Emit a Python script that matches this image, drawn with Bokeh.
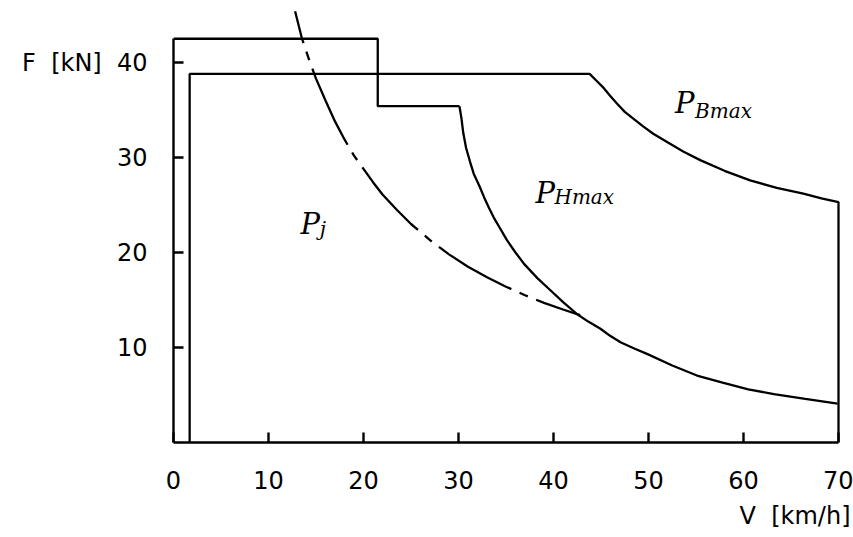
from bokeh.plotting import figure
from bokeh.models import Range1d, FixedTicker, Label, Title
from bokeh.embed import file_html
from bokeh.resources import INLINE

# ---- data ----
x_ticks = [0, 10, 20, 30, 40, 50, 60, 70]
y_ticks = [10, 20, 30, 40]
y_tick_labels = {40: "F\u00a0\u00a0[kN]\u00a0\u00a040"}

# outer step limit (top of the left boundary)
outer_v = [0, 21.5, 21.5, 30.1]
outer_f = [42.5, 42.5, 35.4, 35.4]

# P_Hmax curve
hmax_v = [30.1, 30.3, 30.5, 30.8, 31.2, 31.6, 32.2, 32.7, 33.2, 33.7, 34.4, 35.1, 36.0, 36.9,
          38.3, 39.7, 41.1, 42.5, 43.7, 44.9, 46.0, 47.05, 48.5, 49.9, 52.5, 55.1, 57.8,
          60.5, 63.2, 66.5, 69.9]
hmax_f = [35.4, 34.2, 32.6, 31.0, 29.6, 28.3, 27.0, 25.8, 24.7, 23.7, 22.5, 21.3, 20.0, 18.8,
          17.3, 16.0, 14.7, 13.5, 12.7, 12.0, 11.2, 10.56, 9.9, 9.3, 8.1, 7.05, 6.3,
          5.6, 5.1, 4.6, 4.1]

# P_Bmax limit
bmax_v = [1.7, 1.7, 43.8, 44.5, 45.3, 46.0, 46.7, 47.5, 48.4, 49.4, 50.5, 52.0, 53.7, 55.5,
          58.0, 60.7, 63.5, 66.3, 68.2, 70.0, 70.0]
bmax_f = [0, 38.8, 38.8, 38.1, 37.3, 36.45, 35.65, 34.8, 34.1, 33.3, 32.5, 31.6, 30.6, 29.7,
          28.6, 27.6, 26.8, 26.2, 25.7, 25.3, 0]

# P_j adhesion curve
pj_v = [12.8, 13.5, 14.2, 15.0, 16.0, 17.0, 18.0, 19.0, 20.0, 21.0, 22.0, 23.5, 25.0, 27.0,
        29.0, 31.0, 33.0, 35.0, 37.0, 39.0, 41.0, 42.8]
pj_f = [45.4, 42.6, 40.5, 38.3, 36.0, 33.8, 31.9, 30.2, 28.8, 27.4, 26.1, 24.5, 23.0, 21.3,
        19.8, 18.5, 17.4, 16.4, 15.5, 14.7, 14.0, 13.4]

p = figure(frame_width=677, frame_height=442,
           x_range=Range1d(0, 677 / 9.5), y_range=Range1d(0, 442 / 9.5),
           output_backend="svg", toolbar_location=None,
           min_border_left=173, min_border_right=3,
           min_border_top=0, min_border_bottom=0)
p.grid.visible = False
p.outline_line_color = None
p.background_fill_color = "white"

for ax, ticks, bounds in ((p.xaxis[0], x_ticks, (0, 70)), (p.yaxis[0], y_ticks, (0, 42.5))):
    ax.ticker = FixedTicker(ticks=ticks)
    ax.bounds = bounds
    ax.axis_line_width = 2.4
    ax.axis_line_color = "black"
    ax.major_tick_line_width = 2.4
    ax.major_tick_line_color = "black"
    ax.major_tick_in = 10
    ax.major_tick_out = 0
    ax.minor_tick_line_color = None
    ax.major_label_text_font = "DejaVu Sans"
    ax.major_label_text_font_size = "24px"
    ax.major_label_text_color = "black"
p.xaxis.major_label_standoff = 28
p.yaxis.major_label_standoff = 26
p.yaxis.major_label_overrides = y_tick_labels

p.add_layout(Title(text="V\u00a0\u00a0[km/h]", align="right", text_font="DejaVu Sans",
                   text_font_size="24px", text_font_style="normal",
                   text_color="black", standoff=20, vertical_align="top"), "below")

lw = 2.3
p.line(outer_v, outer_f, line_color="black", line_width=lw)
p.line(hmax_v, hmax_f, line_color="black", line_width=lw)
p.line(bmax_v, bmax_f, line_color="black", line_width=lw)
p.line(pj_v, pj_f, line_color="black", line_width=lw,
       line_dash="84 9 9 9", line_dash_offset=51)

def txt(x, y, s, size):
    p.add_layout(Label(x=x, y=y, text=s, text_font="DejaVu Serif", text_font_size=size,
                       text_font_style="italic", text_color="black",
                       text_align="left", text_baseline="alphabetic"))

txt(13.37, 23.05, "P", "29px")
txt(15.4, 22.5, "j", "20px")
txt(38.1, 26.3, "P", "29px")
txt(40.1, 25.8, "Hmax", "20px")
txt(52.8, 35.7, "P", "29px")
txt(54.9, 34.9, "Bmax", "20px")

open("out.html", "w").write(file_html(p, INLINE))
